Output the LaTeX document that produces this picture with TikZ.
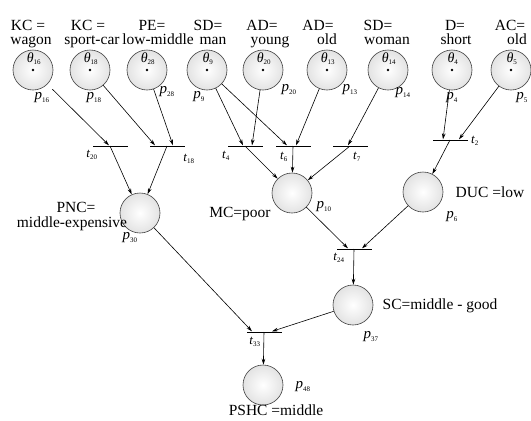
\documentclass[tikz,border=0pt]{standalone}
\usepackage{fontspec}
\setmainfont{Liberation Serif}
\usetikzlibrary{arrows.meta,calc}
\newcommand{\pp}[1]{{\itshape p}\textsubscript{\fontsize{7}{7}\selectfont #1}}
\newcommand{\tlb}[1]{{\itshape t}\textsubscript{\fontsize{7}{7}\selectfont #1}}
\newcommand{\thl}[1]{{\itshape θ}\textsubscript{\fontsize{7}{7}\selectfont #1}}
\begin{document}
\begin{tikzpicture}[x=1pt,y=-1pt,
  place/.style={circle,minimum size=40pt,inner sep=0pt,draw=black!75,line width=0.6pt,
    inner color=white,outer color=gray!22},
  trans/.style={rectangle,minimum width=35pt,minimum height=0.9pt,inner sep=0pt,fill=black},
  lbl/.style={font=\fontsize{15.5}{13}\selectfont,align=center,inner sep=0pt,anchor=base},
  plab/.style={font=\fontsize{15}{15}\selectfont,inner sep=0pt},
  tlab/.style={font=\fontsize{13}{13}\selectfont,inner sep=0pt},
  thlab/.style={font=\fontsize{14}{14}\selectfont,inner sep=0pt},
  arc/.style={line width=0.6pt,-{Stealth[length=6pt,width=3.6pt]}},
  dotc/.style={circle,fill=black,inner sep=0pt,minimum size=2.6pt}]
\useasboundingbox (0,0) rectangle (531,421);
% top places
\foreach \n/\x/\th in {16/33/16,18/90/18,28/147/28,9/207/9,20/263/20,13/327/13,14/388/14,4/452/4,5/511/5}{
  \node[place] (p\n) at (\x,70) {};
  \node[dotc] at (\x,70) {};
  \node[thlab] at (\x+1,59) {\thl{\th}};
}
% top labels
\node[lbl] (l16a) at (28,30) {KC =};
\node[lbl] (l16b) at (31,44) {wagon};
\node[lbl] (l18a) at (88,30) {KC =};
\node[lbl] (l18b) at (92,44) {sport-car};
\node[lbl] (l28a) at (152,30) {PE=};
\node[lbl] (l28b) at (158,44) {low-middle};
\node[lbl] (l9a) at (208,30) {SD=};
\node[lbl] (l9b) at (213,44) {man};
\node[lbl] (l20a) at (262,30) {AD=};
\node[lbl] (l20b) at (270,44) {young};
\node[lbl] (l13a) at (318,30) {AD=};
\node[lbl] (l13b) at (327,44) {old};
\node[lbl] (l14a) at (378,30) {SD=};
\node[lbl] (l14b) at (387,44) {woman};
\node[lbl] (l4a) at (455,30) {D=};
\node[lbl] (l4b) at (456,44) {short};
\node[lbl] (l5a) at (510,30) {AC=};
\node[lbl] (l5b) at (517,44) {old};
% place labels top
\node[plab] at (42,98) {\pp{16}};
\node[plab] at (94,98) {\pp{18}};
\node[plab] at (167,92) {\pp{28}};
\node[plab] at (199,97) {\pp{9}};
\node[plab] at (289,90) {\pp{20}};
\node[plab] at (350,90) {\pp{13}};
\node[plab] at (403,93) {\pp{14}};
\node[plab] at (452,98) {\pp{4}};
\node[plab] at (522,98) {\pp{5}};
% transitions
\node[trans] (t20) at (110,146) {};
\node[trans] (t18) at (167,146) {};
\node[trans] (t4) at (245,146) {};
\node[trans] (t6) at (293,146) {};
\node[trans] (t7) at (350,146) {};
\node[trans] (t2) at (450,140) {};
\node[trans] (t24) at (354,249) {};
\node[trans] (t33) at (264,332) {};
\node[tlab] at (92,155) {\tlb{20}};
\node[tlab] at (189,159) {\tlb{18}};
\node[tlab] at (226,156) {\tlb{4}};
\node[tlab] at (284,157) {\tlb{6}};
\node[tlab] at (357,157) {\tlb{7}};
\node[tlab] at (475,141) {\tlb{2}};
\node[tlab] at (339,258) {\tlb{24}};
\node[tlab] at (255,342) {\tlb{33}};
% middle places
\node[place] (p30) at (140,213) {};
\node[place] (p10) at (292,193) {};
\node[place] (p6) at (423,192) {};
\node[place] (p37) at (353,305) {};
\node[place] (p48) at (263,385) {};
\node[plab] at (130,238) {\pp{30}};
\node[plab] at (324,207) {\pp{10}};
\node[plab] at (452,217) {\pp{6}};
\node[plab] at (371,337) {\pp{37}};
\node[plab] at (303,387) {\pp{48}};
\node[lbl] (lpnca) at (76,212) {PNC=};
\node[lbl] (lpncb) at (72,227) {middle-expensive};
\node[lbl] (lmc) at (240,217) {MC=poor};
\node[lbl] (lduc) at (490,197) {DUC =low};
\node[lbl] (lsc) at (440,309) {SC=middle - good};
\node[lbl] (lpshc) at (276,415) {PSHC =middle};
% arcs
\draw[arc,shorten <=7pt] (p16) -- ([xshift=-1pt]t20.north);
\draw[arc] (p18) -- ([xshift=-12pt]t18.north);
\draw[arc] (p28) -- ([xshift=6pt]t18.north);
\draw[arc] (t20.center) -- (p30);
\draw[arc] (t18.center) -- (p30);
\draw[arc] (p9) -- ([xshift=-2pt]t4.north);
\draw[arc] (p20) -- ([xshift=7pt]t4.north);
\draw[arc] (p9) -- ([xshift=-6pt]t6.north);
\draw[arc] (p13) -- ([xshift=3pt]t6.north);
\draw[arc] (p14) -- ([xshift=-2pt]t7.north);
\draw[arc] (t6.center) -- (p10);
\draw[arc] (t4.center) -- (p10);
\draw[arc] (t7.center) -- (p10);
\draw[arc] (p4) -- ([xshift=-7pt]t2.north);
\draw[arc] (p5) -- ([xshift=9pt]t2.north);
\draw[arc] (t2.center) -- (p6);
\draw[arc] (p10) -- ([xshift=-6pt]t24.north);
\draw[arc] (p6) -- ([xshift=8pt]t24.north);
\draw[arc] (t24.center) -- (p37);
\draw[arc] (p30) -- ([xshift=-12pt]t33.north);
\draw[arc] (p37) -- ([xshift=8pt]t33.north);
\draw[arc] (t33.center) -- (p48);
\end{tikzpicture}
\end{document}
